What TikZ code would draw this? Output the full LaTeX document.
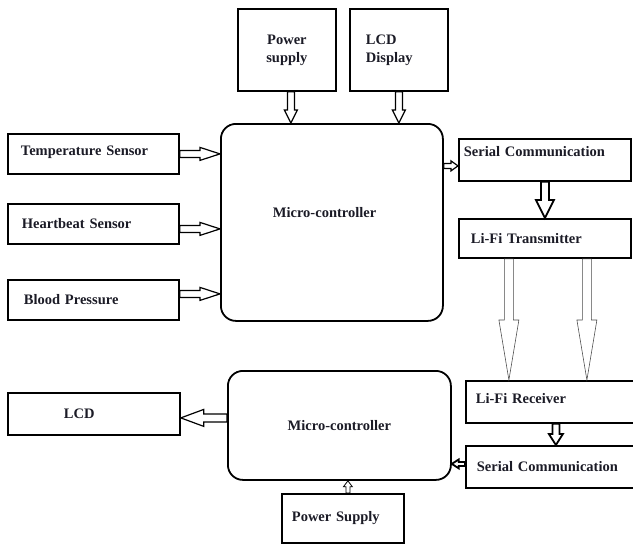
\documentclass[tikz,border=0pt]{standalone}
\usepackage{fontspec}
\setmainfont{Liberation Serif}
\usepackage{tikz}
\usetikzlibrary{calc}
\definecolor{diagInk}{HTML}{1B1B26}
\definecolor{diagGray}{HTML}{4A4A4A}
\newcommand{\diagfont}{\fontsize{14.5}{18}\selectfont\bfseries}
\tikzset{
  unitbox/.style={rectangle,draw=black,line width=1.8pt,anchor=north west,
    align=left,font=\diagfont,text=diagInk,inner ysep=2pt},
  mcubox/.style={rectangle,draw=black,line width=1.8pt,rounded corners=15pt,
    anchor=north west,align=center,font=\diagfont,text=diagInk},
  blockarrow/.style n args={3}{draw=black,line width=1.2pt,line join=miter,
    to path={let \p1=(\tikztostart), \p2=(\tikztotarget), \p3=($(\p2)!#3!(\p1)$) in
      ($(\p1)!#1!90:(\p2)$) -- ($(\p3)!#1!90:(\p2)$) -- ($(\p3)!#2!90:(\p2)$) -- (\p2)
      -- ($(\p3)!#2!-90:(\p2)$) -- ($(\p3)!#1!-90:(\p2)$) -- ($(\p1)!#1!-90:(\p2)$) -- cycle}},
  heavyarrow/.style={line width=1.8pt},
  lightarrow/.style={line width=0.6pt,draw=diagGray}
}

\begin{document}
\begin{tikzpicture}[x=1pt,y=-1pt]
\useasboundingbox (0,0) rectangle (633,544);
\clip (0,0) rectangle (633,544);

\node[unitbox, minimum width=98pt, minimum height=82pt, align=center,
  inner xsep=4pt, text width=90pt] (pwr) at (237,8) {Power\\supply};
\node[unitbox, minimum width=98pt, minimum height=82pt,
  inner xsep=16pt, text width=66pt] (lcdtop) at (349,8) {LCD\\Display};
\node[unitbox, minimum width=171pt, minimum height=40pt, inner xsep=13pt,
  text width=145pt, text depth=6pt] (temp) at (7,133) {Temperature Sensor};
\node[unitbox, minimum width=171pt, minimum height=40pt, inner xsep=14pt,
  text width=143pt] (heart) at (7,203) {Heartbeat Sensor};
\node[unitbox, minimum width=171pt, minimum height=40pt, inner xsep=16pt,
  text width=139pt] (blood) at (7,279) {Blood Pressure};
\node[mcubox, minimum width=222pt, minimum height=197pt, align=left,
  inner xsep=52pt, text width=118pt, text depth=19pt] (mcuA) at (220,123) {Micro-controller};
\node[unitbox, minimum width=172pt, minimum height=42pt, inner xsep=5pt,
  text width=162pt, text depth=16pt] (sc1) at (458,138) {Serial Communication};
\node[unitbox, minimum width=172pt, minimum height=39pt, inner xsep=12pt,
  text width=148pt] (litx) at (458,218) {Li-Fi Transmitter};
\node[unitbox, minimum width=180pt, minimum height=42pt, inner xsep=10pt,
  text width=160pt, text depth=6pt] (lirx) at (465,380) {Li-Fi Receiver};
\node[unitbox, minimum width=180pt, minimum height=42pt, inner xsep=11pt,
  text width=158pt] (sc2) at (465,445) {Serial Communication};
\node[mcubox, minimum width=223pt, minimum height=109pt] (mcuB) at (227,370) {Micro-controller};
\node[unitbox, minimum width=172pt, minimum height=42pt, inner xsep=56pt,
  text width=60pt] (lcd) at (7,392) {LCD};
\node[unitbox, minimum width=122pt, minimum height=49pt, inner xsep=10pt,
  text width=102pt] (pwrB) at (281,493) {Power Supply};

\coordinate (pwrout) at ([xshift=4pt]pwr.south);
\coordinate (hbout) at ([yshift=-5pt]heart.east);
\coordinate (bpout) at ([yshift=6pt]blood.east);
\coordinate (scin) at ([yshift=-6pt]sc1.west);
\coordinate (lfa) at ([xshift=-36pt]litx.south);
\coordinate (lfb) at ([xshift=42pt]litx.south);
\coordinate (scback) at ([yshift=3pt]sc2.west);
\coordinate (lcdin) at ([yshift=-4pt]lcd.east);
\coordinate (pbout) at ([xshift=5pt]pwrB.north);

\draw[blockarrow={3.5pt}{6.5pt}{13pt}] (pwrout) to (pwrout |- mcuA.north);
\draw[blockarrow={3.5pt}{6.5pt}{13pt}] (lcdtop.south) to (lcdtop.south |- mcuA.north);
\draw[blockarrow={3.5pt}{6.5pt}{20pt}] (temp.east) to (temp.east -| mcuA.west);
\draw[blockarrow={3.5pt}{6.5pt}{20pt}] (hbout) to (hbout -| mcuA.west);
\draw[blockarrow={3.5pt}{6.5pt}{20pt}] (bpout) to (bpout -| mcuA.west);
\draw[blockarrow={2.5pt}{5pt}{7pt}] (scin -| mcuA.east) to (scin);
\draw[blockarrow={4pt}{9pt}{18pt}, heavyarrow] (sc1.south) to (sc1.south |- litx.north);
\draw[blockarrow={4.5pt}{10pt}{60pt}, lightarrow] (lfa) to (lfa |- lirx.north);
\draw[blockarrow={4.5pt}{10pt}{60pt}, lightarrow] (lfb) to (lfb |- lirx.north);
\draw[blockarrow={3.5pt}{7pt}{11pt}, heavyarrow] (lirx.south) to (lirx.south |- sc2.north);
\draw[blockarrow={2pt}{4.5pt}{7pt}, heavyarrow] (scback) to (scback -| mcuB.east);
\draw[blockarrow={4pt}{8.5pt}{23pt}] (lcdin -| mcuB.west) to (lcdin);
\draw[blockarrow={2pt}{4.5pt}{6pt}, line width=0.8pt] (pbout) to (pbout |- mcuB.south);
\end{tikzpicture}
\end{document}
